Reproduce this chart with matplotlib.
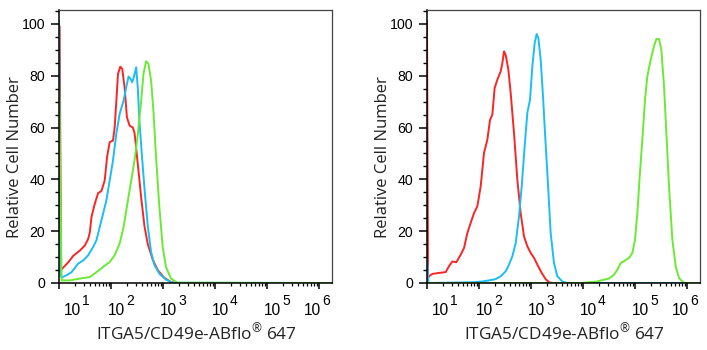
import numpy as np
import matplotlib
matplotlib.use("Agg")
import matplotlib.pyplot as plt
import matplotlib.transforms as mtransforms
from matplotlib import font_manager
from matplotlib.ticker import FixedLocator, LogLocator, NullFormatter, MultipleLocator

# ---------------- data (x as log10 of fluorescence intensity) ----------------
left_red_log = [1.012, 1.04, 1.051, 1.178, 1.274, 1.401, 1.497, 1.561, 1.592, 1.624, 1.688, 1.752,
                1.815, 1.879, 1.924, 1.975, 2.038, 2.070, 2.102, 2.134, 2.178, 2.217, 2.261,
                2.306, 2.357, 2.420, 2.452, 2.484, 2.535, 2.580, 2.643, 2.707, 2.803, 2.898,
                3.025, 3.153, 3.248, 6.24]
left_red_val = [99, 5.0, 5.3, 8.0, 10.5, 12.5, 14.5, 17.0, 19.5, 25.4, 30.6, 34.7,
                35.5, 39.6, 48.6, 54.4, 55.0, 60.0, 70.0, 80.7, 83.5, 82.6, 75.6,
                64.0, 60.8, 60.0, 58.0, 52.0, 42.0, 33.0, 22.0, 15.0, 9.0, 5.0,
                2.0, 0.4, 0.0, 0.0]

left_blue_log = [1.00, 1.03, 1.070, 1.146, 1.242, 1.369, 1.465, 1.561, 1.656, 1.720, 1.783,
                 1.847, 1.911, 1.975, 2.038, 2.102, 2.166, 2.242, 2.293, 2.338, 2.376, 2.408,
                 2.439, 2.484, 2.516, 2.548, 2.599, 2.650, 2.707, 2.771, 2.834, 2.930, 3.057,
                 3.185, 6.24]
left_blue_val = [101, 2.5, 2.3, 3.0, 4.2, 7.5, 8.7, 10.7, 13.9, 16.5, 21.6,
                 26.7, 31.9, 39.6, 47.3, 57.6, 65.3, 70.4, 75.6, 79.7, 78.8, 77.5,
                 79.4, 83.3, 75.0, 62.0, 48.0, 35.0, 22.0, 12.0, 7.0, 3.6, 1.3,
                 0.1, 0.0]

left_green_log = [1.00, 1.05, 1.070, 1.210, 1.401, 1.592, 1.720, 1.847, 1.975, 2.070, 2.166,
                  2.242, 2.325, 2.389, 2.452, 2.516, 2.580, 2.624, 2.675, 2.720, 2.771,
                  2.815, 2.866, 2.930, 2.994, 3.057, 3.153, 3.280, 6.24]
left_green_val = [77, 1.0, 1.0, 1.0, 1.7, 2.3, 4.2, 6.2, 8.1, 10.7, 15.2,
                  21.6, 31.9, 39.6, 47.3, 57.6, 70.4, 80.7, 85.6, 84.6, 78.1,
                  66.6, 48.6, 29.3, 13.9, 6.2, 1.7, 0.1, 0.0]

right_red_log = [1.00, 1.02, 1.03, 1.103, 1.231, 1.360, 1.423, 1.487, 1.564, 1.647, 1.712,
                 1.776, 1.840, 1.904, 1.968, 2.032, 2.096, 2.160, 2.212, 2.256, 2.301,
                 2.353, 2.417, 2.449, 2.481, 2.513, 2.564, 2.609, 2.673, 2.737, 2.801,
                 2.865, 2.929, 2.994, 3.058, 3.122, 3.205, 3.282, 3.346, 3.41, 6.24]
right_red_val = [101, 1.5, 2.5, 3.5, 3.9, 4.2, 6.5, 8.3, 8.0, 10.9, 13.5,
                 19.3, 23.2, 27.0, 29.6, 37.3, 50.2, 55.3, 63.0, 65.0, 75.3,
                 78.5, 81.7, 84.9, 89.4, 88.1, 82.4, 73.4, 57.9, 39.9, 27.0,
                 18.0, 14.2, 11.6, 9.7, 7.1, 3.9, 1.5, 0.3, 0.0, 0.0]

right_blue_log = [1.00, 1.03, 1.904, 2.064, 2.192, 2.321, 2.417, 2.513, 2.577, 2.641, 2.705,
                  2.769, 2.821, 2.878, 2.929, 2.981, 3.026, 3.071, 3.109, 3.141, 3.186,
                  3.231, 3.269, 3.314, 3.378, 3.442, 3.506, 3.603, 3.699, 6.24]
right_blue_val = [9.0, 0.0, 0.3, 0.6, 1.0, 1.5, 2.6, 4.5, 7.1, 10.3, 15.4,
                  25.7, 37.3, 52.8, 65.6, 70.8, 83.7, 92.7, 96.1, 94.6, 86.2,
                  72.0, 57.9, 42.5, 19.3, 7.7, 2.6, 0.6, 0.0, 0.0]

right_green_log = [1.00, 3.987, 4.115, 4.276, 4.404, 4.500, 4.596, 4.660, 4.724, 4.788, 4.885,
                   4.949, 5.000, 5.045, 5.090, 5.141, 5.192, 5.237, 5.301, 5.365, 5.410,
                   5.462, 5.506, 5.558, 5.603, 5.654, 5.718, 5.782, 5.846, 5.942, 6.24]
right_green_val = [0.0, 0.0, 0.3, 0.6, 1.3, 1.7, 3.2, 5.1, 7.7, 8.4, 9.7,
                   11.6, 16.7, 27.0, 41.2, 55.3, 70.8, 79.8, 86.2, 91.4, 94.2,
                   94.2, 90.1, 75.9, 57.9, 37.3, 16.7, 6.4, 1.9, 0.0, 0.0]

decade_exponents = [1, 2, 3, 4, 5, 6]
y_ticks = [0, 20, 40, 60, 80, 100]
x_label = "ITGA5/CD49e-ABflo$^{\\mathregular{®}}$ 647"
y_label = "Relative Cell Number"

RED, BLUE, GREEN = "#f82626", "#1cbdf2", "#6aea34"

# ---------------- fonts ----------------
available = {f.name for f in font_manager.fontManager.ttflist}
tick_font = "Liberation Sans"
label_font = "Open Sans" if "Open Sans" in available else "DejaVu Sans"
plt.rcParams["mathtext.fontset"] = "custom"
plt.rcParams["mathtext.rm"] = label_font

W, H, DPI = 707, 350, 100
fig = plt.figure(figsize=(W / DPI, H / DPI), dpi=DPI)

panels = [
    (59, [(left_red_log, left_red_val, RED), (left_blue_log, left_blue_val, BLUE),
          (left_green_log, left_green_val, GREEN)], 196),
    (427, [(right_red_log, right_red_val, RED), (right_blue_log, right_blue_val, BLUE),
           (right_green_log, right_green_val, GREEN)], 564),
]
label_offsets = [5, -3, -3, -3, -3, -15]

for x0, series, xlab_center in panels:
    ax = fig.add_axes([x0 / W, (H - 283) / H, 272.5 / W, 273 / H])
    for lg, val, col in series:
        ax.plot(10 ** np.array(lg), val, color=col, lw=1.4, solid_joinstyle="round")
    ax.set_xscale("log")
    ax.set_xlim(10, 10 ** 6.24)
    ax.set_ylim(0, 105.4)

    ax.xaxis.set_major_locator(FixedLocator([10.0 ** d for d in decade_exponents]))
    ax.xaxis.set_minor_locator(LogLocator(base=10, subs=np.arange(2, 10), numticks=20))
    ax.xaxis.set_minor_formatter(NullFormatter())
    ax.set_xticklabels([])
    ax.set_yticks(y_ticks)
    ax.yaxis.set_minor_locator(MultipleLocator(5))
    ax.tick_params(axis="y", which="major", length=6, width=1.1, pad=4,
                   labelsize=10.2, labelfontfamily=tick_font, direction="out")
    ax.tick_params(axis="y", which="minor", length=3, width=1.0, direction="out")
    ax.tick_params(axis="x", which="major", length=4.5, width=1.1, direction="out")
    ax.tick_params(axis="x", which="minor", length=2.5, width=0.9, direction="out")
    for s in ["top", "right"]:
        ax.spines[s].set_color("#444444")
        ax.spines[s].set_linewidth(0.9)
    for s in ["left", "bottom"]:
        ax.spines[s].set_color("black")
        ax.spines[s].set_linewidth(1.1)

    blend = mtransforms.blended_transform_factory(ax.transData, ax.transAxes)
    for d, off in zip(decade_exponents, label_offsets):
        t1 = blend + mtransforms.ScaledTranslation(off / DPI, -32 / DPI, fig.dpi_scale_trans)
        ax.text(10.0 ** d, 0, "10", transform=t1, ha="left", va="baseline",
                fontsize=11.2, family=tick_font, color="black")
        t2 = blend + mtransforms.ScaledTranslation((off + 18) / DPI, -22 / DPI, fig.dpi_scale_trans)
        ax.text(10.0 ** d, 0, str(d), transform=t2, ha="left", va="baseline",
                fontsize=10, family=tick_font, color="black")

    fig.text(xlab_center / W, 1 - 333 / H, x_label, ha="center", va="center",
             fontsize=12.4, family=label_font, color="#222222")
    fig.text((x0 - 44) / W, 1 - 157.5 / H, y_label, ha="center", va="center",
             rotation=90, fontsize=12, family=label_font, color="#222222")

fig.savefig("out.png", dpi=DPI)
